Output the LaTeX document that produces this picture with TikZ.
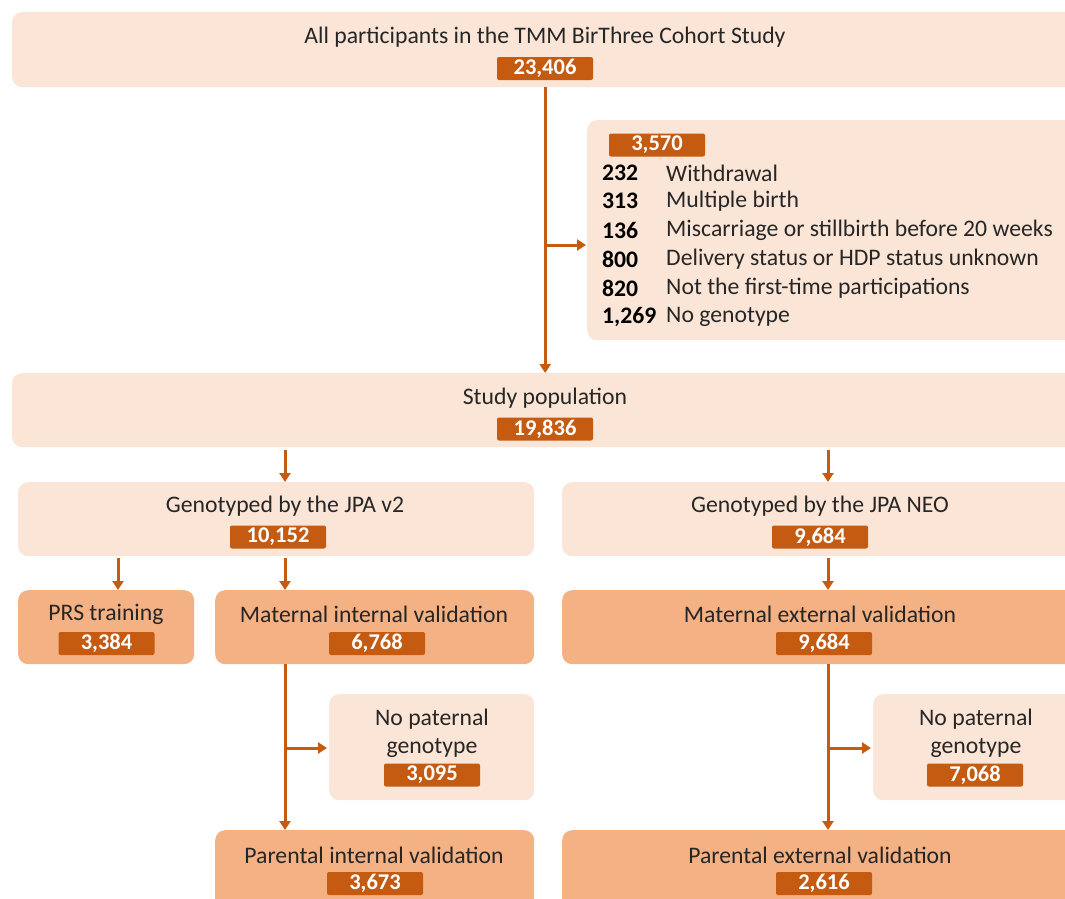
\documentclass[tikz,border=0pt]{standalone}
\usepackage{fontspec}
\setmainfont{Carlito}
\usetikzlibrary{arrows.meta}
\definecolor{lightc}{HTML}{FBE5D6}
\definecolor{darkc}{HTML}{F4B183}
\definecolor{badgec}{HTML}{C55A11}
\definecolor{textc}{HTML}{262626}
\tikzset{
  box/.style={rounded corners=10pt, draw=none, inner sep=0pt, anchor=north west},
  lightbox/.style={box, fill=lightc},
  darkbox/.style={box, fill=darkc},
  badge/.style={fill=badgec, text=white, font=\bfseries\fontsize{22.5}{24}\selectfont, minimum width=96pt, minimum height=23pt, inner sep=0pt, rounded corners=2pt},
  lbl/.style={font=\fontsize{23.7}{26}\selectfont, text=textc, inner sep=0pt},
  num/.style={font=\bfseries\fontsize{23.7}{26}\selectfont, text=black, inner sep=0pt, anchor=west},
  item/.style={font=\fontsize{23.7}{26}\selectfont, text=textc, inner sep=0pt, anchor=west},
  arr/.style={draw=badgec, line width=3pt, -{Triangle[length=9pt,width=11pt]}},
}
\begin{document}
\begin{tikzpicture}[x=1pt,y=-1pt]
\useasboundingbox (0,0) rectangle (1065,898);
\fill[white] (0,0) rectangle (1065,898);
\begin{scope}
\clip (0,0) rectangle (1065,898);
% boxes
\node[lightbox, minimum width=1066pt, minimum height=75pt] (top) at (12,12) {};
\node[lightbox, minimum width=492pt, minimum height=220pt] (excl) at (587,120) {};
\node[lightbox, minimum width=1066pt, minimum height=74pt] (study) at (12,373) {};
\node[lightbox, minimum width=516pt, minimum height=74pt] (g1) at (18,482) {};
\node[lightbox, minimum width=516pt, minimum height=74pt] (g2) at (562,482) {};
\node[darkbox, minimum width=176pt, minimum height=74pt] (prs) at (18,590) {};
\node[darkbox, minimum width=319pt, minimum height=74pt] (mi) at (215,590) {};
\node[darkbox, minimum width=516pt, minimum height=74pt] (me) at (562,590) {};
\node[lightbox, minimum width=205pt, minimum height=106pt] (np1) at (329,694) {};
\node[lightbox, minimum width=205pt, minimum height=106pt] (np2) at (873,694) {};
\node[darkbox, minimum width=319pt, minimum height=80pt] (pi) at (215,830) {};
\node[darkbox, minimum width=516pt, minimum height=80pt] (pe) at (562,830) {};
% texts
\node[lbl] (ttop) at (545,37) {All participants in the TMM BirThree Cohort Study};
\node[badge] (btop) at (545,68.5) {23,406};
\node[badge] (bexcl) at (657,145) {3,570};
\node[num] (n1) at (602,173) {232};  \node[item] (i1) at (666,173) {Withdrawal};
\node[num] (n2) at (602,201) {313};  \node[item] (i2) at (666,201) {Multiple birth};
\node[num] (n3) at (602,230) {136};  \node[item] (i3) at (666,230) {Miscarriage or stillbirth before 20 weeks};
\node[num] (n4) at (602,259) {800};  \node[item] (i4) at (666,259) {Delivery status or HDP status unknown};
\node[num] (n5) at (602,288) {820};  \node[item] (i5) at (666,288) {Not the first-time participations};
\node[num] (n6) at (602,317) {1,269};\node[item] (i6) at (666,317) {No genotype};
\node[lbl] (tstudy) at (545,398) {Study population};
\node[badge] (bstudy) at (545,429) {19,836};
\node[lbl] (tg1) at (285,506) {Genotyped by the JPA v2};
\node[badge] (bg1) at (278,537) {10,152};
\node[lbl] (tg2) at (820,506) {Genotyped by the JPA NEO};
\node[badge] (bg2) at (820,537) {9,684};
\node[lbl] (tprs) at (106,614) {PRS training};
\node[badge] (bprs) at (106.5,643.5) {3,384};
\node[lbl] (tmi) at (374,614) {Maternal internal validation};
\node[badge] (bmi) at (377,643.5) {6,768};
\node[lbl] (tme) at (820,614) {Maternal external validation};
\node[badge] (bme) at (824,643.5) {9,684};
\node[lbl] (tnp1a) at (432,719) {No paternal};
\node[lbl] (tnp1b) at (432,748) {genotype};
\node[badge] (bnp1) at (432,775) {3,095};
\node[lbl] (tnp2a) at (976,719) {No paternal};
\node[lbl] (tnp2b) at (976,748) {genotype};
\node[badge] (bnp2) at (975,775) {7,068};
\node[lbl] (tpi) at (374,855) {Parental internal validation};
\node[badge] (bpi) at (375,883.5) {3,673};
\node[lbl] (tpe) at (820,855) {Parental external validation};
\node[badge] (bpe) at (824,883.5) {2,616};
% connectors
\coordinate (b1) at (545,245);
\coordinate (xa) at (285,0);
\coordinate (xb) at (828,0);
\coordinate (xc) at (118,0);
\coordinate (b2) at (285,748);
\coordinate (b3) at (828,748);
\draw[arr] (top.south) -- (study.north);
\draw[arr] (b1) -- ([xshift=-1pt]b1 -| excl.west);
\draw[arr, shorten <=3pt] (study.south -| xa) -- (g1.north -| xa);
\draw[arr, shorten <=3pt] (study.south -| xb) -- (g2.north -| xb);
\draw[arr, shorten <=2pt] (g1.south -| xc) -- (prs.north -| xc);
\draw[arr, shorten <=2pt] (g1.south -| xa) -- (mi.north -| xa);
\draw[arr, shorten <=2pt] (g2.south -| xb) -- (me.north -| xb);
\draw[arr] (mi.south -| xa) -- (pi.north -| xa);
\draw[arr] (b2) -- ([xshift=-2pt]b2 -| np1.west);
\draw[arr] (me.south -| xb) -- (pe.north -| xb);
\draw[arr] (b3) -- ([xshift=-2pt]b3 -| np2.west);
\end{scope}
\end{tikzpicture}
\end{document}
